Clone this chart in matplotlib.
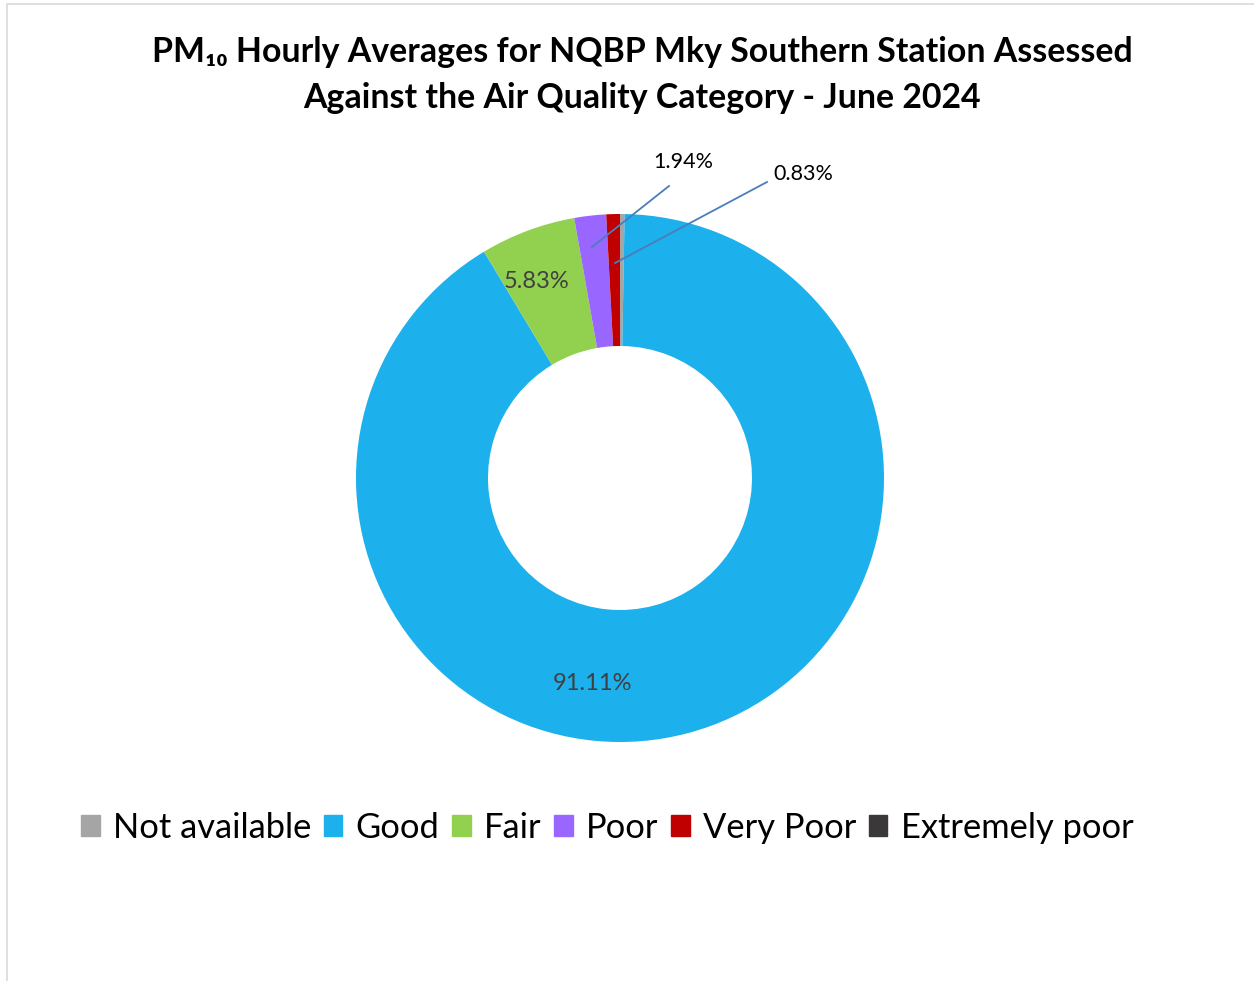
import matplotlib
matplotlib.use("Agg")
import matplotlib.pyplot as plt
from matplotlib.patches import Rectangle

plt.rcParams['font.family'] = ['Lato', 'DejaVu Sans']

# hours in each air quality category, June 2024 (720 h)
categories = ["Not available", "Good", "Fair", "Poor", "Very Poor", "Extremely poor"]
hours = [2, 656, 42, 14, 6, 0]
colors = ["#a5a5a5", "#1cb0ec", "#92d050", "#9966ff", "#c00000", "#3a3838"]

title = "PM\u2081\u2080 Hourly Averages for NQBP Mky Southern Station Assessed\nAgainst the Air Quality Category - June 2024"

total = sum(hours)
pct = [h / total * 100 for h in hours]

W, H = 1254, 981
fig = plt.figure(figsize=(W / 100, H / 100), dpi=100)
ax = fig.add_axes([0, 0, 1, 1])
ax.set_xlim(0, W)
ax.set_ylim(0, H)
ax.set_aspect('equal')
ax.axis('off')

# chart border (left and top visible)
ax.add_patch(Rectangle((6.5, -5), W + 10, H - 3.5 + 5, fill=False,
                       edgecolor='#d9d9d9', lw=1.2))

cx, cy, r = 620, H - 478, 264
wedges, _ = ax.pie(hours, colors=colors, startangle=90, counterclock=False,
                   center=(cx, cy), radius=r, frame=True,
                   wedgeprops=dict(width=r * 0.5, edgecolor='none'))
ax.set_xlim(0, W)
ax.set_ylim(0, H)
ax.axis('off')

# data labels
ax.text(593, H - 683, f"{pct[1]:.2f}%", ha='center', va='center',
        fontsize=17, color='#404040')
ax.text(537, H - 281, f"{pct[2]:.2f}%", ha='center', va='center',
        fontsize=17, color='#404040')
ax.text(683, H - 162, f"{pct[3]:.2f}%", ha='center', va='center',
        fontsize=15.5, color='black')
ax.text(803, H - 174, f"{pct[4]:.2f}%", ha='center', va='center',
        fontsize=15.5, color='black')
ax.plot([669, 592], [H - 186, H - 247], color='#4a7ebb', lw=1.3)
ax.plot([767, 615], [H - 182, H - 263], color='#4a7ebb', lw=1.3)

fig.text(0.512, 1 - 75 / H, title, ha='center', va='center',
         fontsize=24.4, fontweight='bold', linespacing=1.57)

handles = [Rectangle((0, 0), 1, 1, color=c) for c in colors]
ax.legend(handles, categories, loc='center', bbox_to_anchor=(607 / W, 1 - 828 / H),
          bbox_transform=fig.transFigure, ncol=6, frameon=False, fontsize=24.8,
          handlelength=0.55, handleheight=0.55, handletextpad=0.38,
          columnspacing=0.36)

fig.savefig("out.png", dpi=100)
